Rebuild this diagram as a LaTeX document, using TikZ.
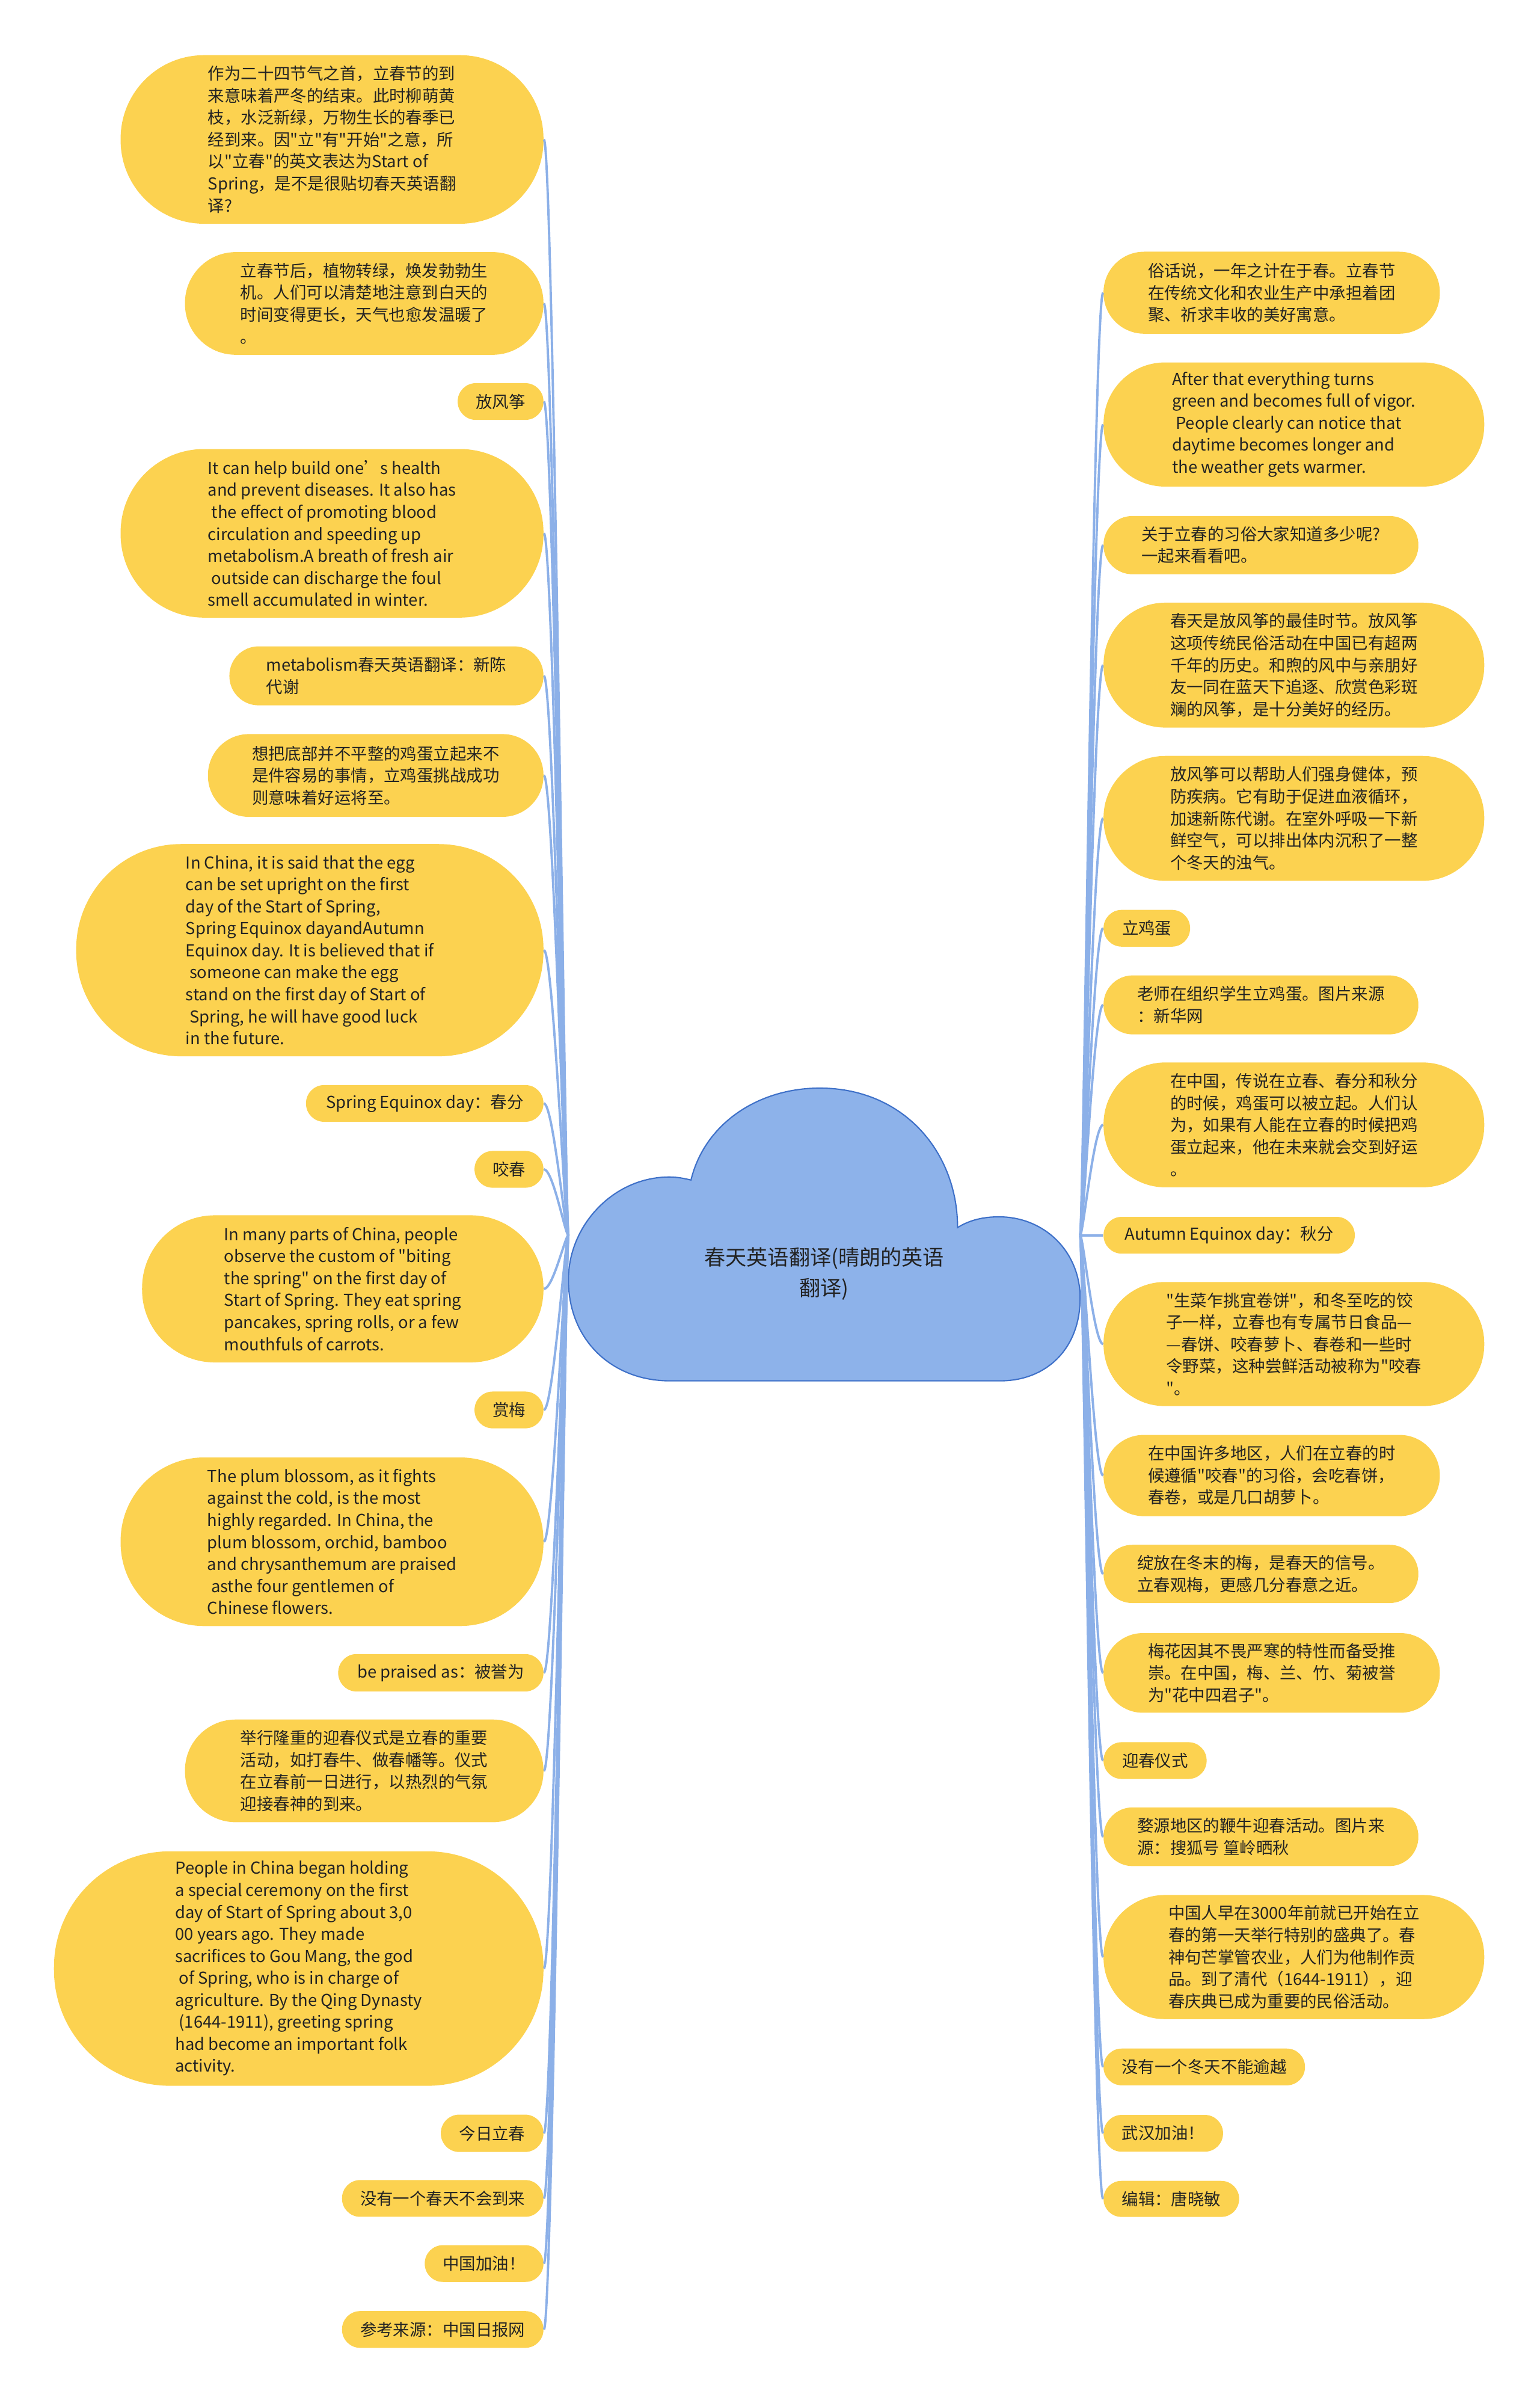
\documentclass[tikz,border=0pt]{standalone}
\usepackage{fontspec}
\setmainfont{Noto Sans CJK SC}[Ligatures=TeXOff]
\definecolor{leafyellow}{RGB}{252,210,80}
\definecolor{inktext}{RGB}{35,35,35}
\definecolor{linkblue}{RGB}{140,176,232}
\definecolor{cloudblue}{RGB}{141,178,234}
\definecolor{cloudedge}{RGB}{62,112,200}
\begin{document}
\begin{tikzpicture}[x=0.02547cm, y=-0.02547cm,
    leaf/.style={fill=leafyellow, text=inktext, align=left, inner sep=0pt, font=\fontsize{7.8}{10.4}\selectfont},
    boxsize/.style 2 args={minimum width=#1*0.02547cm, minimum height=#2*0.02547cm, rounded corners=#2*0.0126cm},
    lside/.style={leaf, anchor=east},
    rside/.style={leaf, anchor=west},
    link/.style={linkblue, line width=1.1pt},
    rootlabel/.style={align=center, text=inktext, inner sep=0pt, font=\fontsize{10}{14.5}\selectfont}]
    \useasboundingbox (0,0) rectangle (1005,1568);

    % left branch
    \node[lside, boxsize={276}{110}] (l1) at (355,91) {作为二十四节气之首，立春节的到\\来意味着严冬的结束。此时柳萌黄\\枝，水泛新绿，万物生长的春季已\\经到来。因"立"有"开始"之意，所\\以"立春"的英文表达为Start of\\Spring，是不是很贴切春天英语翻\\译?};
    \node[lside, boxsize={234}{67}] (l2) at (355,198) {立春节后，植物转绿，焕发勃勃生\\机。人们可以清楚地注意到白天的\\时间变得更长，天气也愈发温暖了\\。};
    \node[lside, boxsize={56}{24}] (l3) at (355,262) {放风筝};
    \node[lside, boxsize={276}{110}] (l4) at (355,348) {It can help build one’s health\\and prevent diseases. It also has\\\ the effect of promoting blood\\circulation and speeding up\\metabolism.A breath of fresh air\\\ outside can discharge the foul\\smell accumulated in winter.};
    \node[lside, boxsize={205}{38.5}] (l5) at (355,441) {metabolism春天英语翻译：新陈\\代谢};
    \node[lside, boxsize={219}{54}] (l6) at (355,506) {想把底部并不平整的鸡蛋立起来不\\是件容易的事情，立鸡蛋挑战成功\\则意味着好运将至。};
    \node[lside, boxsize={305}{138.5}] (l7) at (355,620) {In China, it is said that the egg\\can be set upright on the first\\day of the Start of Spring,\\Spring Equinox dayandAutumn\\Equinox day. It is believed that if\\\ someone can make the egg\\stand on the first day of Start of\\\ Spring, he will have good luck\\in the future.};
    \node[lside, boxsize={155}{24}] (l8) at (355,720) {Spring Equinox day：春分};
    \node[lside, boxsize={45}{24}] (l9) at (355,763) {咬春};
    \node[lside, boxsize={262}{96}] (l10) at (355,841) {In many parts of China, people\\observe the custom of "biting\\the spring" on the first day of\\Start of Spring. They eat spring\\pancakes, spring rolls, or a few\\mouthfuls of carrots.};
    \node[lside, boxsize={45}{24}] (l11) at (355,920) {赏梅};
    \node[lside, boxsize={276}{110}] (l12) at (355,1006) {The plum blossom, as it fights\\against the cold, is the most\\highly regarded. In China, the\\plum blossom, orchid, bamboo\\and chrysanthemum are praised\\\ asthe four gentlemen of\\Chinese flowers.};
    \node[lside, boxsize={134}{24.5}] (l13) at (355,1091.5) {be praised as：被誉为};
    \node[lside, boxsize={234}{67}] (l14) at (355,1155.5) {举行隆重的迎春仪式是立春的重要\\活动，如打春牛、做春幡等。仪式\\在立春前一日进行，以热烈的气氛\\迎接春神的到来。};
    \node[lside, boxsize={319.5}{153}] (l15) at (355,1284.5) {People in China began holding\\a special ceremony on the first\\day of Start of Spring about 3,0\\00 years ago. They made\\sacrifices to Gou Mang, the god\\\ of Spring, who is in charge of\\agriculture. By the Qing Dynasty\\\ (1644-1911), greeting spring\\had become an important folk\\activity.};
    \node[lside, boxsize={67}{24.4}] (l16) at (355,1392) {今日立春};
    \node[lside, boxsize={131.5}{24}] (l17) at (355,1434.5) {没有一个春天不会到来};
    \node[lside, boxsize={77.5}{24}] (l18) at (355,1477) {中国加油！};
    \node[lside, boxsize={131.5}{24}] (l19) at (355,1520) {参考来源：中国日报网};

    % right branch
    \node[rside, boxsize={219.5}{53.5}] (r1) at (720,191) {俗话说，一年之计在于春。立春节\\在传统文化和农业生产中承担着团\\聚、祈求丰收的美好寓意。};
    \node[rside, boxsize={248.5}{81}] (r2) at (720,277) {After that everything turns\\green and becomes full of vigor.\\\ People clearly can notice that\\daytime becomes longer and\\the weather gets warmer.};
    \node[rside, boxsize={205.5}{38}] (r3) at (720,355.7) {关于立春的习俗大家知道多少呢?\\一起来看看吧。};
    \node[rside, boxsize={248.5}{81.5}] (r4) at (720,434) {春天是放风筝的最佳时节。放风筝\\这项传统民俗活动在中国已有超两\\千年的历史。和煦的风中与亲朋好\\友一同在蓝天下追逐、欣赏色彩斑\\斓的风筝，是十分美好的经历。};
    \node[rside, boxsize={248.5}{81.5}] (r5) at (720,534) {放风筝可以帮助人们强身健体，预\\防疾病。它有助于促进血液循环，\\加速新陈代谢。在室外呼吸一下新\\鲜空气，可以排出体内沉积了一整\\个冬天的浊气。};
    \node[rside, boxsize={56.5}{24}] (r6) at (720,605.7) {立鸡蛋};
    \node[rside, boxsize={205.5}{38.5}] (r7) at (720,655.7) {老师在组织学生立鸡蛋。图片来源\\：新华网};
    \node[rside, boxsize={248.5}{81.5}] (r8) at (720,734) {在中国，传说在立春、春分和秋分\\的时候，鸡蛋可以被立起。人们认\\为，如果有人能在立春的时候把鸡\\蛋立起来，他在未来就会交到好运\\。};
    \node[rside, boxsize={164}{24}] (r9) at (720,806) {Autumn Equinox day：秋分};
    \node[rside, boxsize={248.5}{81}] (r10) at (720,877) {"生菜乍挑宜卷饼"，和冬至吃的饺\\子一样，立春也有专属节日食品—\\—春饼、咬春萝卜、春卷和一些时\\令野菜，这种尝鲜活动被称为"咬春\\"。};
    \node[rside, boxsize={219.5}{53}] (r11) at (720,962.8) {在中国许多地区，人们在立春的时\\候遵循"咬春"的习俗，会吃春饼，\\春卷，或是几口胡萝卜。};
    \node[rside, boxsize={205.5}{38}] (r12) at (720,1027) {绽放在冬末的梅，是春天的信号。\\立春观梅，更感几分春意之近。};
    \node[rside, boxsize={219.5}{52}] (r13) at (720,1091.6) {梅花因其不畏严寒的特性而备受推\\崇。在中国，梅、兰、竹、菊被誉\\为"花中四君子"。};
    \node[rside, boxsize={67.3}{24}] (r14) at (720,1148.8) {迎春仪式};
    \node[rside, boxsize={205.5}{38.3}] (r15) at (720,1198.5) {婺源地区的鞭牛迎春活动。图片来\\源：搜狐号 篁岭晒秋};
    \node[rside, boxsize={248.5}{81}] (r16) at (720,1277) {中国人早在3000年前就已开始在立\\春的第一天举行特别的盛典了。春\\神句芒掌管农业，人们为他制作贡\\品。到了清代（1644-1911），迎\\春庆典已成为重要的民俗活动。};
    \node[rside, boxsize={131.5}{24}] (r17) at (720,1348.7) {没有一个冬天不能逾越};
    \node[rside, boxsize={78}{24}] (r18) at (720,1392) {武汉加油！};
    \node[rside, boxsize={88.5}{23.5}] (r19) at (720,1434.8) {编辑：唐晓敏};

    % cloud
    \draw[cloudedge, line width=0.6pt, fill=cloudblue] (437,901) .. controls (400,901) and (371,875) .. (371,835)
        .. controls (371,800) and (400,768) .. (437,768)
        .. controls (442,768) and (447,769) .. (451,770)
        .. controls (460,733) and (495,710) .. (535,710)
        .. controls (590,710) and (625,752) .. (625,801)
        .. controls (633,796) and (642,794) .. (652,794)
        .. controls (682,794) and (705,817) .. (705,847)
        .. controls (705,880) and (683,901) .. (653,901) -- cycle;
    \node[rootlabel] (root) at (538,831) {春天英语翻译(晴朗的英语\\翻译)};
    \coordinate (rootL) at (371,806);
    \coordinate (rootR) at (705,806);

    \foreach \i in {1,...,19}
        \draw[link] (rootL) .. controls +(-2,0) and +(6,0) .. (l\i.east);
    \foreach \i in {1,...,19}
        \draw[link] (rootR) .. controls +(2,0) and +(-6,0) .. (r\i.west);
\end{tikzpicture}
\end{document}
